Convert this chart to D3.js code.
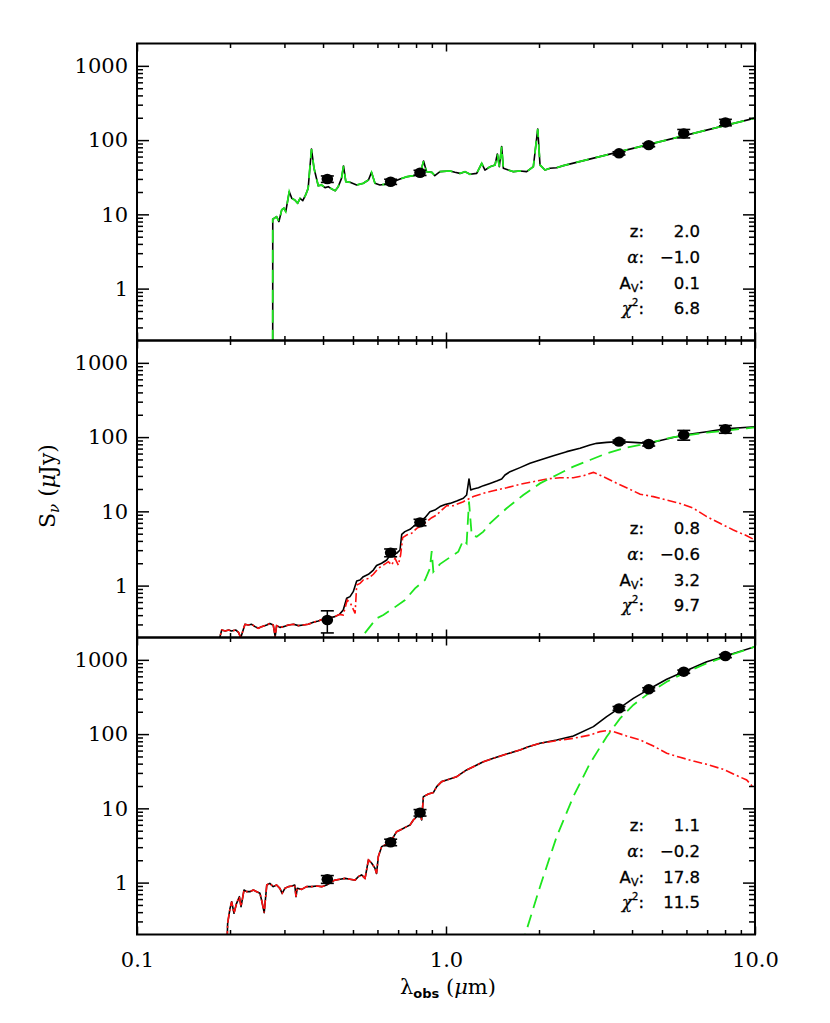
<!DOCTYPE html>
<html><head><meta charset="utf-8">
<script src="https://cdn.jsdelivr.net/npm/d3@7"></script>
<style>body{margin:0;background:#fff}</style>
</head><body><svg id="c" width="830" height="1023"></svg>
<script>
// ---------------- DATA (wavelength in micron, flux in microJy) ----------------
const xTickMajor = [0.1, 1, 10];
const xTickLabels = ["0.1", "1.0", "10.0"];
const yTickMajor = [1, 10, 100, 1000];
const yTickLabels = ["1", "10", "100", "1000"];

const bands = [0.413, 0.662, 0.824, 3.63, 4.53, 5.88, 8.02];
const topFlux = [29.9, 27.5, 36.3, 66.4, 85.7, 123, 173];
const topErr  = [0.10, 0.08, 0.08, 0.05, 0.05, 0.13, 0.10];
const midFlux = [0.344, 2.78, 7.11, 86.8, 80.7, 107, 128];
const midErr  = [0.33, 0.12, 0.10, 0.05, 0.06, 0.15, 0.12];
const botFlux = [1.11, 3.49, 8.75, 222, 401, 693, 1127];
const botErr  = [0.12, 0.10, 0.10, 0.06, 0.05, 0.05, 0.05];

const fitZ     = ["2.0", "0.8", "1.1"];
const fitAlpha = ["\u22121.0", "\u22120.6", "\u22120.2"];
const fitAv    = ["0.1", "3.2", "17.8"];
const fitChi2  = ["6.8", "9.7", "11.5"];

// top panel: total model (black) and single template (green)
const topTotal = [[0.2749,0.1],[0.275,8.6],[0.283,9.3],[0.288,8.0],[0.294,11.5],[0.299,12.1],[0.303,10.9],[0.311,20.2],[0.317,16.4],[0.324,15.6],[0.331,14.1],[0.337,16.4],[0.344,15.3],[0.352,18.6],[0.358,22.4],[0.367,75.9],[0.374,41.7],[0.386,24.3],[0.396,24.8],[0.406,22.9],[0.416,23.6],[0.427,21.9],[0.438,20.8],[0.448,23.6],[0.459,30.5],[0.466,44.8],[0.474,27.5],[0.489,27.0],[0.514,24.8],[0.540,26.2],[0.561,29.0],[0.574,36.8],[0.589,26.2],[0.611,24.8],[0.643,25.6],[0.676,27.5],[0.710,29.9],[0.747,32.1],[0.784,33.2],[0.824,34.6],[0.846,52.2],[0.865,37.6],[0.900,36.8],[0.920,33.2],[0.956,37.6],[1.030,38.4],[1.069,36.8],[1.110,35.6],[1.152,37.6],[1.196,34.6],[1.257,35.6],[1.305,48.6],[1.337,39.5],[1.388,43.8],[1.441,46.2],[1.466,65.0],[1.488,43.8],[1.514,81.6],[1.533,41.7],[1.591,39.5],[1.652,37.6],[1.736,38.4],[1.824,37.6],[1.917,43.8],[1.981,141],[2.015,46.2],[2.091,39.5],[2.171,41.7],[2.281,42.5],[2.398,45.3],[10,198]];
const topGreen = topTotal;

// middle panel
const midTotal = [[0.182,0.15],[0.188,0.252],[0.193,0.245],[0.198,0.252],[0.202,0.245],[0.209,0.252],[0.213,0.235],[0.2166,0.199],[0.2236,0.301],[0.229,0.295],[0.235,0.301],[0.241,0.280],[0.247,0.266],[0.253,0.280],[0.263,0.295],[0.269,0.309],[0.276,0.295],[0.280,0.205],[0.283,0.289],[0.290,0.274],[0.298,0.280],[0.309,0.295],[0.321,0.301],[0.333,0.289],[0.345,0.295],[0.358,0.301],[0.372,0.320],[0.386,0.334],[0.401,0.355],[0.421,0.370],[0.437,0.382],[0.452,0.410],[0.465,0.469],[0.477,0.674],[0.489,0.710],[0.501,0.829],[0.514,1.153],[0.527,1.19],[0.540,1.32],[0.561,1.42],[0.582,1.62],[0.596,1.86],[0.619,2.0],[0.643,2.21],[0.659,2.58],[0.692,2.72],[0.710,3.02],[0.719,4.90],[0.736,5.33],[0.765,5.73],[0.794,6.55],[0.824,7.26],[0.855,8.22],[0.887,9.90],[0.920,10.4],[0.956,11.6],[0.993,12.4],[1.030,12.8],[1.083,13.8],[1.138,15.0],[1.166,16.6],[1.187,27.3],[1.202,19.4],[1.226,20.0],[1.273,20.8],[1.321,22.2],[1.388,23.8],[1.459,25.6],[1.514,27.3],[1.552,30.9],[1.611,34.2],[1.736,38.8],[1.870,44.3],[2.015,49.2],[2.226,56.2],[2.458,63.7],[2.715,70.6],[2.924,78.3],[3.073,82.4],[3.311,85.0],[3.63,86.8],[4.04,85.0],[4.53,82.4],[5.18,94.3],[5.88,107],[6.98,118],[8.02,129],[10,138]];
const midRedTail = [[0.465,0.402],[0.479,0.640],[0.491,0.577],[0.508,0.423],[0.514,1.02],[0.527,1.07],[0.540,1.19],[0.561,1.25],[0.582,1.42],[0.604,1.71],[0.627,1.89],[0.651,2.10],[0.667,1.89],[0.684,2.33],[0.701,1.89],[0.713,2.58],[0.724,4.42],[0.746,4.80],[0.774,5.06],[0.804,5.91],[0.834,6.42],[0.866,7.26],[0.899,8.22],[0.933,8.93],[0.956,9.90],[1.005,11.9],[1.056,11.9],[1.138,13.5],[1.226,15.8],[1.321,17.5],[1.423,19.0],[1.571,20.8],[1.736,23.1],[1.917,25.1],[2.118,27.3],[2.339,28.4],[2.583,28.4],[2.783,30.2],[3.0,33.5],[3.23,29.3],[3.48,25.1],[3.84,20.8],[4.25,17.0],[4.69,15.8],[5.18,14.2],[5.72,12.8],[6.32,11.0],[6.98,8.48],[7.70,6.90],[8.51,5.61],[9.40,4.70],[10,4.11]];
const midGreen = [[0.49,0.15],[0.540,0.216],[0.596,0.362],[0.627,0.402],[0.675,0.494],[0.737,0.640],[0.794,0.919],[0.855,1.19],[0.887,1.71],[0.899,2.92],[0.910,1.54],[0.956,1.95],[1.056,2.58],[1.096,2.86],[1.138,4.11],[1.166,3.71],[1.187,13.5],[1.211,4.80],[1.257,4.56],[1.321,5.33],[1.388,6.90],[1.571,11.0],[1.779,16.6],[2.015,23.8],[2.281,30.9],[2.583,40.0],[2.924,49.2],[3.311,60.5],[3.75,70.6],[4.25,78.3],[4.81,88.6],[5.44,100],[6.98,115],[9.40,131],[10,135]];

// bottom panel
const botTotal = [[0.195,0.1],[0.1965,0.283],[0.200,0.450],[0.2025,0.553],[0.206,0.386],[0.210,0.526],[0.2144,0.646],[0.2171,0.474],[0.222,0.795],[0.2264,0.755],[0.232,0.755],[0.238,0.795],[0.244,0.755],[0.250,0.717],[0.253,0.583],[0.258,0.394],[0.263,0.928],[0.269,0.977],[0.276,0.882],[0.283,0.928],[0.290,0.837],[0.295,0.717],[0.301,0.837],[0.309,0.882],[0.317,0.900],[0.324,0.928],[0.327,0.646],[0.330,0.837],[0.341,0.811],[0.354,0.882],[0.367,0.882],[0.381,0.900],[0.396,0.882],[0.411,0.928],[0.421,0.998],[0.437,1.08],[0.454,1.11],[0.471,1.14],[0.489,1.11],[0.508,1.08],[0.520,1.20],[0.533,1.27],[0.547,1.14],[0.561,2.02],[0.575,1.82],[0.589,1.56],[0.596,1.33],[0.604,2.24],[0.619,3.05],[0.635,3.21],[0.651,3.38],[0.667,3.75],[0.692,4.85],[0.719,5.22],[0.746,5.67],[0.765,5.97],[0.784,6.97],[0.804,7.73],[0.824,9.02],[0.834,7.0],[0.845,14.4],[0.877,15.6],[0.910,16.3],[0.933,19.6],[0.968,22.9],[1.005,24.1],[1.083,26.7],[1.166,32.9],[1.226,36.4],[1.321,42.5],[1.423,47.2],[1.571,54.0],[1.736,61.1],[1.847,67.7],[2.015,75.1],[2.281,83.3],[2.583,94.3],[3.0,126],[3.311,172],[3.63,222],[4.04,303],[4.53,401],[5.18,547],[5.88,693],[6.98,945],[8.02,1127],[10,1505]];
const botRedTail = [[2.015,75.1],[2.281,81.6],[2.583,87.7],[2.924,97.2],[3.15,108],[3.311,111],[3.48,108],[3.84,94.3],[4.25,83.3],[4.69,69.1],[5.18,55.1],[5.72,48.7],[6.32,43.4],[6.98,39.2],[7.90,33.5],[8.51,29.0],[9.40,24.1],[10,18.0]];
const botGreen = [[1.70,0.15],[1.802,0.197],[2.015,0.882],[2.281,4.16],[2.583,14.4],[2.924,40.4],[3.311,92.3],[3.66,163],[4.04,247],[4.53,354],[5.18,508],[5.88,658],[6.98,898],[8.02,1104],[10,1505]];

// ---------------- DRAWING ----------------
const midRed = midTotal.filter(d => d[0] <= 0.452).concat(midRedTail);
const botRed = botTotal.filter(d => d[0] <= 1.85).concat(botRedTail);

const panels = [
  {total: topTotal, red: null,   green: topGreen, flux: topFlux, err: topErr},
  {total: midTotal, red: midRed, green: midGreen, flux: midFlux, err: midErr},
  {total: botTotal, red: botRed, green: botGreen, flux: botFlux, err: botErr}
];

const svg = d3.select("#c");
const X0 = 137, X1 = 755, TOP = 43.5, PH = 297;
const GREEN = "#1ee61e", RED = "#ff1010";
const serif = "DejaVu Serif, serif";
const sans = "DejaVu Sans, sans-serif";

const x = d3.scaleLog().domain([0.1, 10]).range([X0, X1]);
const xMinor = [];
[0.1, 1].forEach(b => { for (let k = 2; k <= 9; k++) xMinor.push(b * k); });
const yMinor = [];
[0.1, 1, 10, 100, 1000].forEach(b => { for (let k = 2; k <= 9; k++) { const v = b * k; if (v > 0.2 && v < 2000) yMinor.push(v); } });

panels.forEach((p, i) => {
  const top = TOP + i * PH;
  const y = d3.scaleLog().domain([0.2, 2000]).range([top + PH, top]);
  const line = d3.line().x(d => x(d[0])).y(d => y(d[1]));

  svg.append("clipPath").attr("id", "clip" + i)
    .append("rect").attr("x", X0).attr("y", top).attr("width", X1 - X0).attr("height", PH);
  const g = svg.append("g").attr("clip-path", `url(#clip${i})`);

  g.append("path").datum(p.total).attr("d", line)
    .attr("fill", "none").attr("stroke", "#000").attr("stroke-width", 1.6).attr("stroke-linejoin", "round");
  if (p.red) {
    g.append("path").datum(p.red).attr("d", line)
      .attr("fill", "none").attr("stroke", RED).attr("stroke-width", 1.6)
      .attr("stroke-dasharray", "9,3,2,3");
  }
  g.append("path").datum(p.green).attr("d", line)
    .attr("fill", "none").attr("stroke", GREEN).attr("stroke-width", 1.8)
    .attr("stroke-dasharray", "13,7");

  // photometric points
  const pts = bands.map((b, k) => ({lam: b, f: p.flux[k], lo: p.flux[k] * (1 - p.err[k]), hi: p.flux[k] * (1 + p.err[k])}));
  const pg = svg.append("g");
  pg.selectAll("line.eb").data(pts).join("line")
    .attr("x1", d => x(d.lam)).attr("x2", d => x(d.lam))
    .attr("y1", d => y(d.lo)).attr("y2", d => y(d.hi))
    .attr("stroke", "#000").attr("stroke-width", 1.5);
  ["lo", "hi"].forEach(key => {
    pg.selectAll("line.cap" + key).data(pts).join("line")
      .attr("x1", d => x(d.lam) - 6.5).attr("x2", d => x(d.lam) + 6.5)
      .attr("y1", d => y(d[key])).attr("y2", d => y(d[key]))
      .attr("stroke", "#000").attr("stroke-width", 1.6);
  });
  pg.selectAll("ellipse").data(pts).join("ellipse")
    .attr("cx", d => x(d.lam)).attr("cy", d => y(d.f))
    .attr("rx", 5.8).attr("ry", 5.2).attr("fill", "#000");

  // axes
  const ax = svg.append("g").attr("font-family", serif);
  const style = s => { s.select(".domain").remove(); s.selectAll("line").attr("stroke", "#000").attr("stroke-width", 1.5); };
  ax.append("g").attr("transform", `translate(${X0},0)`)
    .call(d3.axisLeft(y).tickValues(yTickMajor).tickSize(-12).tickPadding(9)
      .tickFormat(d => yTickLabels[yTickMajor.indexOf(d)]))
    .call(style)
    .call(s => s.selectAll("text").attr("font-size", 21).attr("font-family", serif).attr("fill", "#000"));
  ax.append("g").attr("transform", `translate(${X0},0)`)
    .call(d3.axisLeft(y).tickValues(yMinor).tickSize(-6).tickFormat("")).call(style);
  ax.append("g").attr("transform", `translate(${X1},0)`)
    .call(d3.axisRight(y).tickValues(yTickMajor).tickSize(-12).tickFormat("")).call(style);
  ax.append("g").attr("transform", `translate(${X1},0)`)
    .call(d3.axisRight(y).tickValues(yMinor).tickSize(-6).tickFormat("")).call(style);
  ax.append("g").attr("transform", `translate(0,${top})`)
    .call(d3.axisTop(x).tickValues(xTickMajor).tickSize(-8).tickFormat("")).call(style);
  ax.append("g").attr("transform", `translate(0,${top})`)
    .call(d3.axisTop(x).tickValues(xMinor).tickSize(-4.5).tickFormat("")).call(style);
  ax.append("g").attr("transform", `translate(0,${top + PH})`)
    .call(d3.axisBottom(x).tickValues(xTickMajor).tickSize(-8).tickPadding(18)
      .tickFormat(d => i === 2 ? xTickLabels[xTickMajor.indexOf(d)] : ""))
    .call(style)
    .call(s => s.selectAll("text").attr("font-size", 21).attr("font-family", serif).attr("fill", "#000"));
  ax.append("g").attr("transform", `translate(0,${top + PH})`)
    .call(d3.axisBottom(x).tickValues(xMinor).tickSize(-4.5).tickFormat("")).call(style);

  // frame
  svg.append("rect").attr("x", X0).attr("y", top).attr("width", X1 - X0).attr("height", PH)
    .attr("fill", "none").attr("stroke", "#000").attr("stroke-width", 2);

  // fit annotations
  const ann = svg.append("g").attr("font-family", sans).attr("font-size", 16.5).attr("fill", "#000")
    .attr("stroke", "#000").attr("stroke-width", 0.3);
  const rows = [top + 193.5, top + 219.3, top + 245, top + 270.5];
  const lab = ann.append("g").attr("text-anchor", "end");
  lab.append("text").attr("x", 644).attr("y", rows[0]).text("z:");
  const a = lab.append("text").attr("x", 644).attr("y", rows[1]);
  a.append("tspan").attr("font-style", "italic").attr("font-family", serif).text("\u03b1");
  a.append("tspan").text(":");
  const av = lab.append("text").attr("x", 644).attr("y", rows[2]);
  av.append("tspan").text("A");
  av.append("tspan").attr("font-size", 11).attr("dy", 3).text("V");
  av.append("tspan").attr("dy", -3).text(":");
  const ch = lab.append("text").attr("x", 644).attr("y", rows[3]);
  ch.append("tspan").attr("font-family", serif).attr("font-style", "italic").text("\u03c7");
  ch.append("tspan").attr("font-size", 10).attr("dy", -8).text("2");
  ch.append("tspan").attr("dy", 8).text(":");
  const val = ann.append("g").attr("text-anchor", "end");
  [fitZ[i], fitAlpha[i], fitAv[i], fitChi2[i]].forEach((t, k) =>
    val.append("text").attr("x", 700).attr("y", rows[k]).text(t));
});

// axis titles
const xt = svg.append("text").attr("x", 448).attr("y", 994).attr("text-anchor", "middle")
  .attr("font-family", serif).attr("font-size", 21);
xt.append("tspan").text("\u03bb");
xt.append("tspan").attr("font-size", 13).attr("dy", 4).attr("font-family", sans).attr("font-weight", "bold").text("obs");
xt.append("tspan").attr("dy", -4).text(" (");
xt.append("tspan").attr("font-style", "italic").text("\u03bc");
xt.append("tspan").text("m)");

const yt = svg.append("text").attr("transform", "translate(55,486) rotate(-90)").attr("text-anchor", "middle")
  .attr("font-family", serif).attr("font-size", 22);
yt.append("tspan").text("S");
yt.append("tspan").attr("font-size", 15).attr("dy", 4).attr("font-style", "italic").text("\u03bd");
yt.append("tspan").attr("dy", -4).text(" (");
yt.append("tspan").attr("font-style", "italic").text("\u03bc");
yt.append("tspan").text("Jy)");
</script>
</body></html>
